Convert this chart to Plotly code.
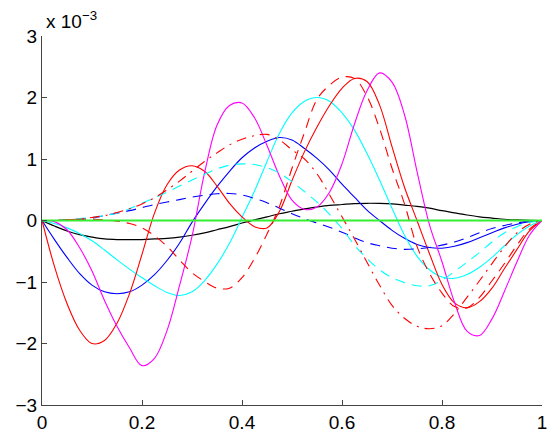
import plotly.graph_objects as go

# x positions shared by all curves; values are in units of 1e-3 (see the "x 10^-3" label)
x_vals = [0, 0.025, 0.05, 0.075, 0.1, 0.125, 0.15, 0.175, 0.2, 0.225, 0.25, 0.275, 0.3, 0.325,
          0.35, 0.375, 0.4, 0.425, 0.45, 0.475, 0.5, 0.525, 0.55, 0.575, 0.6, 0.625, 0.65, 0.675,
          0.7, 0.725, 0.75, 0.775, 0.8, 0.825, 0.85, 0.875, 0.9, 0.925, 0.95, 0.975, 1.0]

black_y = [0, -0.09, -0.17, -0.23, -0.27, -0.3, -0.31, -0.31, -0.31, -0.3, -0.29, -0.27, -0.24, -0.2,
           -0.15, -0.1, -0.04, 0.01, 0.06, 0.11, 0.15, 0.19, 0.22, 0.245, 0.26, 0.275, 0.28, 0.278,
           0.27, 0.25, 0.23, 0.2, 0.16, 0.125, 0.09, 0.06, 0.04, 0.02, 0.01, 0.003, 0]

blue_y = [0, -0.31, -0.6, -0.86, -1.05, -1.16, -1.19, -1.16, -1.05, -0.88, -0.65, -0.37, -0.03, 0.27,
          0.55, 0.8, 1.02, 1.18, 1.29, 1.35, 1.31, 1.17, 1.01, 0.82, 0.59, 0.38, 0.17, 0.0,
          -0.16, -0.29, -0.39, -0.44, -0.45, -0.42, -0.36, -0.28, -0.2, -0.12, -0.06, -0.02, 0]

cyan_y = [0, -0.05, -0.12, -0.21, -0.33, -0.48, -0.64, -0.79, -0.93, -1.06, -1.17, -1.22, -1.16, -0.98,
          -0.71, -0.37, 0.05, 0.48, 0.96, 1.42, 1.75, 1.94, 2.0, 1.94, 1.75, 1.47, 1.09, 0.66,
          0.2, -0.24, -0.58, -0.8, -0.92, -0.94, -0.88, -0.76, -0.6, -0.41, -0.23, -0.09, 0]

red_y = [0, -0.75, -1.35, -1.78, -2.0, -1.95, -1.67, -1.19, -0.55, 0.12, 0.58, 0.82, 0.89, 0.8,
         0.56, 0.28, 0.06, -0.1, -0.12, 0.15, 0.65, 1.12, 1.52, 1.87, 2.15, 2.31, 2.26, 1.88,
         1.2, 0.54, 0.0, -0.54, -1.04, -1.34, -1.42, -1.32, -1.1, -0.78, -0.47, -0.17, 0]

magenta_y = [0, -0.02, -0.15, -0.44, -0.82, -1.3, -1.72, -2.07, -2.36, -2.24, -1.79, -1.06, -0.26, 0.77,
             1.55, 1.87, 1.91, 1.67, 1.22, 0.72, 0.33, 0.18, 0.22, 0.46, 0.92, 1.57, 2.11, 2.4,
             2.25, 1.72, 0.8, -0.07, -0.67, -1.33, -1.8, -1.87, -1.6, -1.15, -0.67, -0.24, 0]

blue_dash_y = [0, 0.0, 0.01, 0.02, 0.04, 0.08, 0.12, 0.16, 0.21, 0.26, 0.3, 0.34, 0.38, 0.41,
               0.435, 0.44, 0.415, 0.36, 0.29, 0.2, 0.11, 0.03, -0.04, -0.11, -0.19, -0.28, -0.36, -0.41,
               -0.45, -0.47, -0.46, -0.44, -0.4, -0.35, -0.28, -0.2, -0.13, -0.08, -0.04, -0.01, 0]

cyan_dash_y = [0, 0.0, 0.01, 0.03, 0.05, 0.08, 0.12, 0.19, 0.28, 0.37, 0.46, 0.56, 0.66, 0.75,
               0.84, 0.9, 0.92, 0.91, 0.86, 0.77, 0.63, 0.47, 0.3, 0.1, -0.13, -0.4, -0.62, -0.8,
               -0.93, -1.01, -1.06, -1.06, -0.97, -0.83, -0.68, -0.52, -0.35, -0.2, -0.1, -0.03, 0]

red_dash_y = [0, 0.0, 0.01, 0.02, 0.02, 0.01, -0.01, -0.05, -0.12, -0.25, -0.42, -0.64, -0.85, -0.99,
              -1.1, -1.1, -0.93, -0.62, -0.22, 0.23, 0.85, 1.43, 1.97, 2.2, 2.33, 2.31, 2.02, 1.5,
              0.85, 0.27, -0.42, -0.86, -1.18, -1.4, -1.42, -1.25, -0.98, -0.7, -0.4, -0.14, 0]

red_dashdot_y = [0, 0.0, 0.01, 0.025, 0.05, 0.08, 0.13, 0.19, 0.27, 0.37, 0.5, 0.64, 0.8, 0.96,
                 1.1, 1.23, 1.32, 1.38, 1.4, 1.31, 1.15, 1.0, 0.76, 0.42, 0.06, -0.3, -0.68, -1.05,
                 -1.38, -1.59, -1.72, -1.76, -1.71, -1.51, -1.25, -0.98, -0.7, -0.43, -0.2, -0.06, 0]

green_x = [0, 1]
green_y = [0, 0]

y_ticks = [-3, -2, -1, 0, 1, 2, 3]
y_ticktext = ["\u22123", "\u22122", "\u22121", "0", "1", "2", "3"]
x_ticks = [0, 0.2, 0.4, 0.6, 0.8, 1]
x_ticktext = ["0", "0.2", "0.4", "0.6", "0.8", "1"]

series = [
    (x_vals, black_y, "#000000", "solid", 1.2),
    (x_vals, blue_y, "#0000ff", "solid", 1.1),
    (x_vals, cyan_y, "#00ffff", "solid", 1.1),
    (x_vals, red_y, "#ff0000", "solid", 1.1),
    (x_vals, magenta_y, "#ff00ff", "solid", 1.1),
    (x_vals, blue_dash_y, "#0000ff", "10px,7px", 1.1),
    (x_vals, cyan_dash_y, "#00ffff", "10px,7px", 1.1),
    (x_vals, red_dash_y, "#ff0000", "10px,7px", 1.1),
    (x_vals, red_dashdot_y, "#ff0000", "10px,6px,2px,6px", 1.1),
    (green_x, green_y, "#33ee33", "solid", 2),
]

fig = go.Figure()
for xs, ys, col, dash, w in series:
    fig.add_trace(go.Scatter(x=xs, y=ys, mode="lines",
                             line=dict(color=col, dash=dash, width=w, shape="spline", smoothing=1.0),
                             showlegend=False, hoverinfo="skip"))

axis_col = "#444444"
font = dict(family="Liberation Sans, Arial, sans-serif", size=19, color="#000000")

fig.update_layout(
    width=554, height=432, autosize=False,
    margin=dict(l=42, r=12, t=36, b=27, autoexpand=False),
    plot_bgcolor="white", paper_bgcolor="white",
    font=font,
    xaxis=dict(range=[0, 1], tickvals=x_ticks, ticktext=x_ticktext, automargin=False,
               showgrid=False, zeroline=False, showline=True, linecolor=axis_col, linewidth=1,
               ticks="inside", ticklen=5, tickcolor=axis_col, tickfont=font),
    yaxis=dict(range=[-3, 3], tickvals=y_ticks, ticktext=y_ticktext, automargin=False,
               showgrid=False, zeroline=False, showline=True, linecolor=axis_col, linewidth=1,
               ticks="inside", ticklen=5, tickcolor=axis_col, tickfont=font),
    annotations=[dict(text="x 10<sup>\u22123</sup>", xref="paper", yref="paper", x=0, y=1,
                      xanchor="left", yanchor="bottom", showarrow=False, xshift=2, yshift=2,
                      font=font)],
)

fig.write_html("out.html")
